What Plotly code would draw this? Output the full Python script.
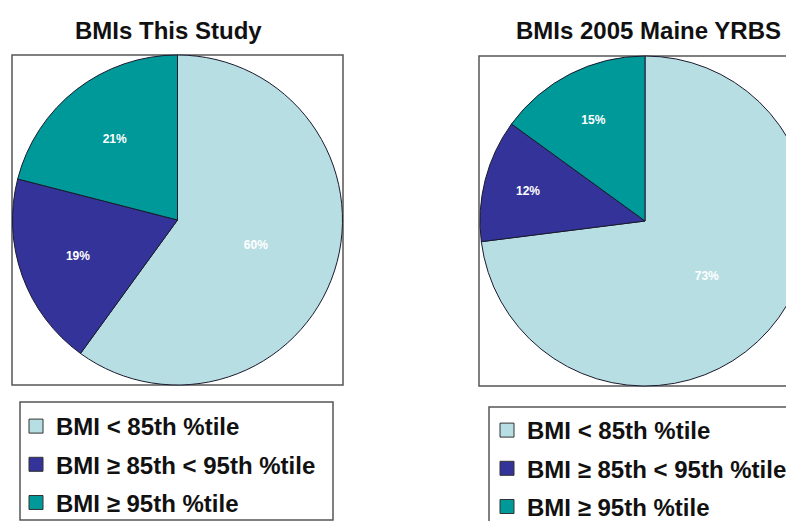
import plotly.graph_objects as go

# page body has an 8px margin; work in reference pixels and convert
OFF = 8
FW, FH = 830, 513

labels = ["BMI < 85th %tile", "BMI \u2265 85th < 95th %tile", "BMI \u2265 95th %tile"]
study_values = [60, 19, 21]
yrbs_values = [73, 12, 15]
colors = ["#B7DEE3", "#333399", "#009999"]
titles = ["BMIs This Study", "BMIs 2005 Maine YRBS"]

FONT = "Liberation Sans, Arial, sans-serif"


def px(x):
    return (x - OFF) / FW


def py(y):
    return 1 - (y - OFF) / FH


fig = go.Figure()

pie_common = dict(
    labels=labels,
    marker=dict(colors=colors, line=dict(color="#1a1a2e", width=1)),
    sort=False,
    direction="clockwise",
    rotation=0,
    texttemplate="%{value}%",
    textposition="inside",
    insidetextorientation="horizontal",
    textfont=dict(family=FONT, size=12, color="white", weight="bold"),
    showlegend=False,
    hoverinfo="label+percent",
)

fig.add_trace(go.Pie(values=study_values,
                     domain=dict(x=[px(12), px(343)], y=[py(385), py(55)]),
                     **pie_common))
fig.add_trace(go.Pie(values=yrbs_values,
                     domain=dict(x=[px(480), px(810)], y=[py(386), py(56)]),
                     **pie_common))

# legend entries (one set per chart)
for leg in ["legend", "legend2"]:
    for i, (lab, col) in enumerate(zip(labels, colors)):
        fig.add_trace(go.Scatter(
            x=[None], y=[None], mode="markers", name=lab,
            marker=dict(symbol="square", size=14, color=col,
                        line=dict(color="#333333", width=1)),
            legend=leg, legendgroup=f"{leg}_{i}", showlegend=True,
            hoverinfo="skip",
        ))

leg_common = dict(
    xanchor="left", yanchor="top",
    borderwidth=0, bgcolor="rgba(0,0,0,0)",
    font=dict(family=FONT, size=24, color="#111111", weight="bold"),
    tracegroupgap=4, orientation="v", itemclick=False, itemdoubleclick=False,
)

box_line = dict(color="#555555", width=1.5)

fig.update_layout(
    width=FW, height=FH,
    margin=dict(l=0, r=0, t=0, b=0, autoexpand=False),
    paper_bgcolor="white", plot_bgcolor="white",
    xaxis=dict(visible=False), yaxis=dict(visible=False),
    legend=dict(x=px(16), y=py(404), **leg_common),
    legend2=dict(x=px(487), y=py(408), **leg_common),
    shapes=[
        dict(type="rect", xref="paper", yref="paper", x0=px(12), x1=px(343),
             y0=py(385), y1=py(55), line=box_line, layer="below"),
        dict(type="rect", xref="paper", yref="paper", x0=px(479), x1=px(830),
             y0=py(386), y1=py(56), line=box_line, layer="below"),
        dict(type="rect", xref="paper", yref="paper", x0=px(20), x1=px(333),
             y0=py(520), y1=py(402), line=box_line, layer="below"),
        dict(type="rect", xref="paper", yref="paper", x0=px(489), x1=px(830),
             y0=py(535), y1=py(407), line=box_line, layer="below"),
    ],
    annotations=[
        dict(text=titles[0], x=px(168), y=py(31), xref="paper", yref="paper",
             showarrow=False, xanchor="center", yanchor="middle",
             font=dict(family=FONT, size=24, color="#111111", weight="bold")),
        dict(text=titles[1], x=px(648), y=py(30), xref="paper", yref="paper",
             showarrow=False, xanchor="center", yanchor="middle",
             font=dict(family=FONT, size=24, color="#111111", weight="bold")),
    ],
)

fig.write_html("out.html")
